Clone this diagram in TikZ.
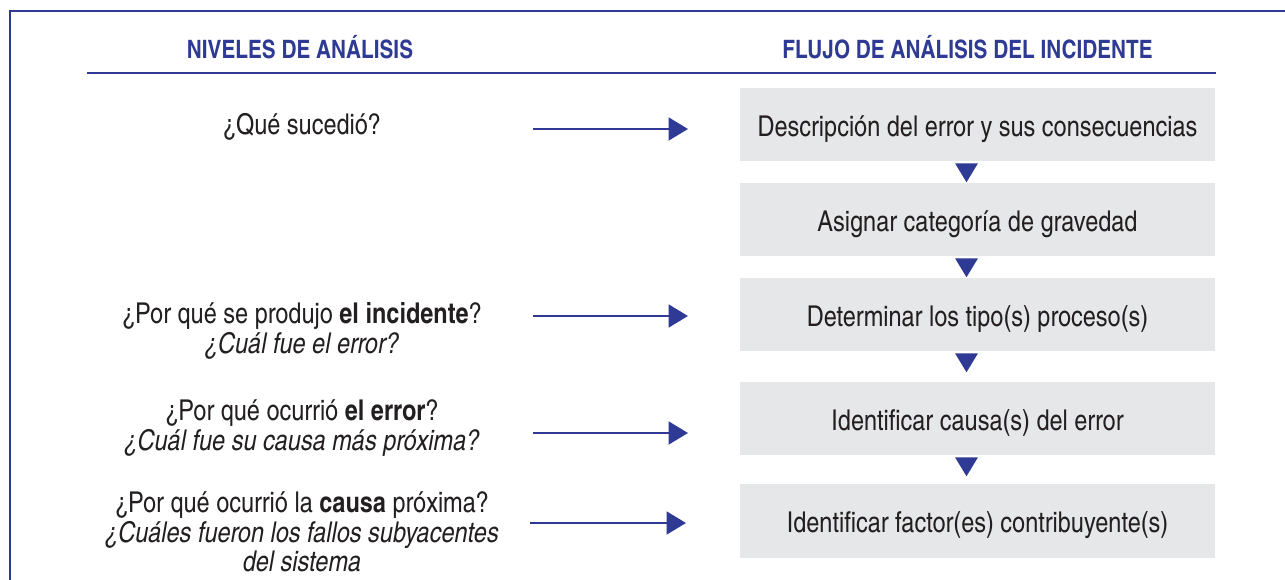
\documentclass[tikz,border=0pt]{standalone}
\usepackage{fontspec}
\IfFontExistsTF{TeX Gyre Heros Cn}{\setmainfont{TeX Gyre Heros Cn}}{\setmainfont{TeX Gyre Heros}[FakeStretch=0.82]}
\usetikzlibrary{arrows.meta,calc}
\definecolor{navy}{HTML}{2E3A94}
\definecolor{boxgray}{HTML}{E6E7E8}
\definecolor{ink}{HTML}{231F20}
\tikzset{
  head/.style={text=navy,font=\fontsize{19}{23}\selectfont\bfseries,inner sep=0pt},
  stepbox/.style={fill=boxgray,minimum width=356.25pt,minimum height=54.75pt,inner sep=0pt,text height=17pt,text depth=0pt,text=ink,font=\fontsize{21.5}{24}\selectfont},
  ques/.style={align=center,text=ink,font=\fontsize{21.5}{22}\selectfont,inner sep=0pt},
  arr/.style={draw=navy,line width=1.9pt,-{Triangle[length=14.5pt,width=17pt]}},
  tri/.style={fill=navy},
  rule/.style={draw=navy,line width=1.9pt},
  frame/.style={draw=navy,line width=1.6pt}
}
\begin{document}
\begin{tikzpicture}[x=0.75pt,y=-0.75pt]
\useasboundingbox (0,0) rectangle (1285,580);
% frame
\coordinate (fbl) at (10,600);
\coordinate (ftl) at (10,11);
\coordinate (ftr) at (1300,11);
\draw[frame] (fbl) -- (ftl) -- (ftr);
% headings
\node[head] (h1) at (300,47) {NIVELES DE ANÁLISIS};
\node[head] (h2) at (967.5,47) {FLUJO DE ANÁLISIS DEL INCIDENTE};
\coordinate (ul) at (87,73);
\coordinate (ur) at (1216,73);
\draw[rule] (ul) -- (ur);
% boxes
\node[stepbox] (b1) at (977.5,125) {Descripción del error y sus consecuencias};
\node[stepbox] (b2) at (977.5,220) {Asignar categoría de gravedad};
\node[stepbox] (b3) at (977.5,315) {Determinar los tipo(s) proceso(s)};
\node[stepbox] (b4) at (977.5,419) {Identificar causa(s) del error};
\node[stepbox] (b5) at (977.5,521) {Identificar factor(es) contribuyente(s)};
% triangles between boxes
\foreach \a in {b1,b2,b3,b4}{
  \fill[tri] ($(\a.south)+(-22.5,1.5)$) -- ++(23,0) -- ++(-11.5,19) -- cycle;
}
% questions
\node[ques] (q1) at (302,127) {¿Qué sucedió?};
\node[ques] (q2) at (302,331) {¿Por qué se produjo \textbf{el incidente}?\\ \itshape ¿Cuál fue el error?};
\node[ques] (q3) at (302,428) {¿Por qué ocurrió \textbf{el error}?\\ \itshape ¿Cuál fue su causa más próxima?};
\node[ques] (q4) at (302,532) {¿Por qué ocurrió la \textbf{causa} próxima?\\ \itshape ¿Cuáles fueron los fallos subyacentes\\ \itshape del sistema};
% arrows
\coordinate (s1) at (533,129); \coordinate (e1) at (688,129);
\coordinate (s2) at (533,316); \coordinate (e2) at (688,316);
\coordinate (s3) at (533,433); \coordinate (e3) at (688,433);
\coordinate (s4) at (530,523); \coordinate (e4) at (686,523);
\draw[arr] (s1) -- (e1);
\draw[arr] (s2) -- (e2);
\draw[arr] (s3) -- (e3);
\draw[arr] (s4) -- (e4);
\end{tikzpicture}
\end{document}
